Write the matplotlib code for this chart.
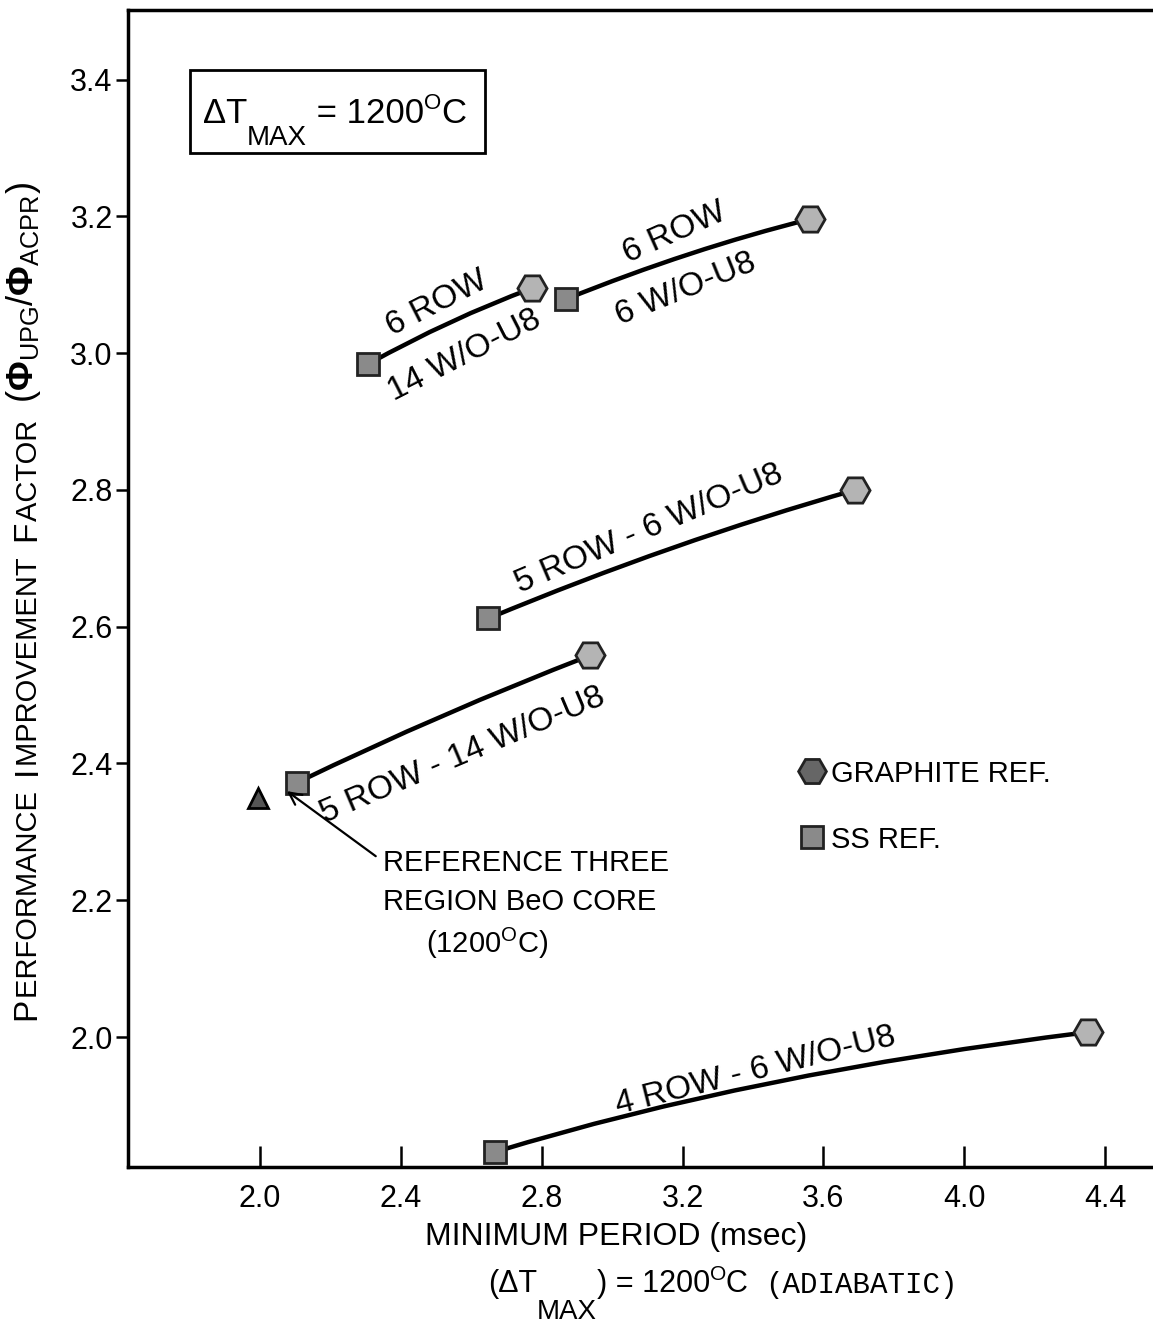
import numpy as np
import matplotlib
matplotlib.use("Agg")
import matplotlib.pyplot as plt
from matplotlib.path import Path
from matplotlib.patches import PathPatch, Rectangle
from matplotlib.lines import Line2D

FONT = ["Liberation Sans", "DejaVu Sans"]
plt.rcParams["font.family"] = FONT
plt.rcParams["mathtext.fontset"] = "custom"
plt.rcParams["mathtext.rm"] = "Liberation Sans"
plt.rcParams["mathtext.bf"] = "Liberation Sans:bold"
plt.rcParams["mathtext.it"] = "Liberation Sans:italic"

# ---------------------------------------------------------------------------
# Data: (SS ref point, midpoint on curve, graphite ref point)
# ---------------------------------------------------------------------------
curve_names = ["6R-14", "6R-6", "5R-6", "5R-14", "4R-6"]
ss_x = [2.307, 2.869, 2.648, 2.105, 2.668]
ss_y = [2.984, 3.079, 2.612, 2.372, 1.832]
mid_x = [2.54, 3.22, 3.17, 2.52, 3.452]
mid_y = [3.045, 3.145, 2.715, 2.470, 1.933]
gr_x = [2.773, 3.5625, 3.690, 2.9375, 4.350]
gr_y = [3.095, 3.196, 2.800, 2.558, 2.007]

ref_x = [1.994]
ref_y = [2.350]

xticks = [2.0, 2.4, 2.8, 3.2, 3.6, 4.0, 4.4]
yticks = [2.0, 2.2, 2.4, 2.6, 2.8, 3.0, 3.2, 3.4]

# line labels: (text, x, y, rotation)
line_labels = [
    ("6 ROW", 2.503, 3.073, 27),
    ("14 W/O-U8", 2.582, 2.996, 27),
    ("6 ROW", 3.176, 3.175, 24),
    ("6 W/O-U8", 3.210, 3.093, 22),
    ("5 ROW - 6 W/O-U8", 3.105, 2.743, 23),
    ("5 ROW - 14 W/O-U8", 2.574, 2.412, 23),
    ("4 ROW - 6 W/O-U8", 3.406, 1.950, 14),
]

MARKER_EDGE = "#222222"


def bezier_through(ax, x0, y0, xm, ym, x1, y1):
    """Quadratic curve from p0 to p1 passing through the midpoint pm."""
    cx = 2 * xm - 0.5 * (x0 + x1)
    cy = 2 * ym - 0.5 * (y0 + y1)
    path = Path([(x0, y0), (cx, cy), (x1, y1)],
                [Path.MOVETO, Path.CURVE3, Path.CURVE3])
    ax.add_patch(PathPatch(path, facecolor="none", edgecolor="black",
                           lw=3.2, zorder=2, capstyle="round"))


def chain_text(ax, start, coords, pieces):
    """Write text pieces one after another; each piece = (text, size, dy_pt, kw)."""
    prev = None
    for txt, size, dy, kw in pieces:
        if prev is None:
            prev = ax.annotate(txt, xy=start, xycoords=coords, fontsize=size,
                               ha="left", va="baseline", annotation_clip=False,
                               **kw)
        else:
            prev = ax.annotate(txt, xy=(1, 0), xycoords=prev, xytext=(0, dy),
                               textcoords="offset points", fontsize=size,
                               ha="left", va="bottom", annotation_clip=False,
                               **kw)
    return prev


fig = plt.figure(figsize=(11.53, 13.27), dpi=100)
ax = fig.add_axes([0.111, 0.1206, 0.889, 0.872])

for i in range(len(curve_names)):
    bezier_through(ax, ss_x[i], ss_y[i], mid_x[i], mid_y[i], gr_x[i], gr_y[i])

ax.plot(ss_x, ss_y, ls="none", marker="s", ms=16, mfc="#8a8a8a",
        mec=MARKER_EDGE, mew=2, zorder=3)
ax.plot(gr_x, gr_y, ls="none", marker="H", ms=21, mfc="#b4b4b4",
        mec=MARKER_EDGE, mew=2, zorder=3)
ax.plot(ref_x, ref_y, ls="none", marker="^", ms=15, mfc="#555555",
        mec="black", mew=2, zorder=3)

for txt, x, y, rot in line_labels:
    ax.text(x, y, txt, fontsize=24, rotation=rot, ha="center", va="center",
            rotation_mode="anchor")

# boxed condition label
ax.add_patch(Rectangle((0.0605, 0.876), 0.288, 0.0717, transform=ax.transAxes,
                       fc="white", ec="black", lw=2, zorder=4))
chain_text(ax, (0.073, 0.902), "axes fraction", [
    ("\u0394T", 25, 0, dict(zorder=5)),
    ("MAX", 20, -15, dict(zorder=5)),
    (" = 1200", 25, 15, dict(zorder=5)),
    ("O", 16, 12, dict(zorder=5)),
    ("C", 25, -12, dict(zorder=5)),
])

# reference point annotation
ax.annotate("", xy=(2.07, 2.362), xytext=(2.335, 2.262),
            arrowprops=dict(arrowstyle="->", lw=1.6, color="black",
                            mutation_scale=22))
ax.text(2.349, 2.255, "REFERENCE THREE", fontsize=21, ha="left", va="center")
ax.text(2.349, 2.197, "REGION BeO CORE", fontsize=21, ha="left", va="center")
ax.text(2.645, 2.137, r"(1200$^{\mathrm{O}}$C)", fontsize=21, ha="center",
        va="center")

# legend
handles = [
    Line2D([], [], ls="none", marker="H", ms=20, mfc="#666666", mec=MARKER_EDGE,
           mew=2),
    Line2D([], [], ls="none", marker="s", ms=16, mfc="#8a8a8a", mec=MARKER_EDGE,
           mew=2),
]
ax.legend(handles, ["GRAPHITE REF.", "SS REF."], loc="upper left",
          bbox_to_anchor=(0.655, 0.352), frameon=False, fontsize=21,
          handlelength=0.9, handletextpad=0.2, labelspacing=1.3,
          borderpad=0, borderaxespad=0)

# axes styling
ax.set_xlim(1.625, 4.536)
ax.set_ylim(1.81, 3.502)
ax.set_xticks(xticks)
ax.set_xticklabels([f"{v:.1f}" for v in xticks])
ax.set_yticks(yticks)
ax.set_yticklabels([f"{v:.1f}" for v in yticks])
ax.tick_params(axis="x", direction="in", length=15, width=1.8, pad=12,
               labelsize=22)
ax.tick_params(axis="y", direction="out", length=9, width=1.8, pad=2,
               labelsize=22)
for side in ["left", "bottom", "top"]:
    ax.spines[side].set_linewidth(2.5)
ax.spines["right"].set_visible(False)

# x-axis captions
fig.text(0.534, 0.0618, "MINIMUM PERIOD (msec)", fontsize=23, ha="center",
         va="baseline")
chain_text(ax, (0.423, 0.0264), "figure fraction", [
    ("(\u0394T", 22, 0, {}),
    ("MAX", 20, -19, {}),
    (") = 1200", 22, 19, {}),
    ("O", 15, 11, {}),
    ("C  ", 22, -11, {}),
    ("(ADIABATIC)", 21, 0, dict(family=["Liberation Mono", "DejaVu Sans Mono"])),
])

# y-axis caption with small caps, built piece by piece upward
parts = [("P", 24), ("ERFORMANCE  ", 21), ("I", 24), ("MPROVEMENT  ", 21),
         ("F", 24), ("ACTOR  ", 21),
         (r"($\mathbf{\Phi}_{\mathrm{UPG}}$/$\mathbf{\Phi}_{\mathrm{ACPR}}$)", 26)]
prev = None
for txt, size in parts:
    if prev is None:
        prev = fig.text(0.037, 0.231, txt, fontsize=size, rotation=90,
                        ha="right", va="bottom")
    else:
        prev = ax.annotate(txt, xy=(1, 1), xycoords=prev, fontsize=size,
                           rotation=90, ha="right", va="bottom",
                           annotation_clip=False)

fig.savefig("out.png", dpi=100)
